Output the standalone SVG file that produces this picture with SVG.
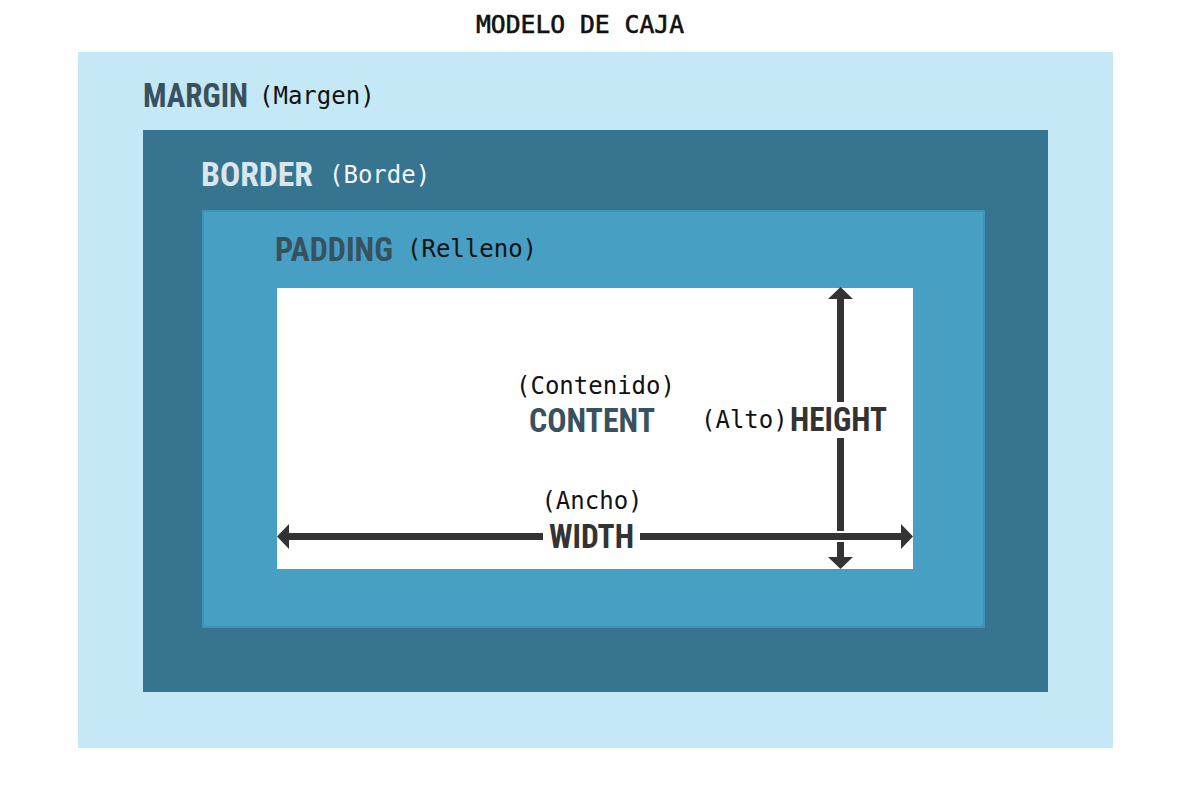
<svg xmlns="http://www.w3.org/2000/svg" width="1200" height="800" viewBox="0 0 1200 800">
  <defs>
    <style>
      .head { font-family: "Liberation Sans Narrow", "Roboto Condensed", "Liberation Sans", sans-serif; font-weight: bold; font-size: 33px; }
      .mono { font-family: "DejaVu Sans Mono", "Liberation Mono", monospace; font-size: 24px; fill: #111; }
      .title { font-family: "DejaVu Sans Mono", "Liberation Mono", monospace; font-size: 24px; fill: #111; stroke: #111; stroke-width: 0.6; }
      .light { fill: #f2f6f8; }
      .dark { fill: #37525e; }
      .pale { fill: #d9e6eb; }
      .ink { fill: #333333; }
      .arrow { stroke: #333333; stroke-width: 7; fill: none; }
      .head-tip { fill: #333333; }
    </style>
  </defs>
  <rect width="1200" height="800" fill="#ffffff"/>
  <text class="title" x="580" y="33" text-anchor="middle" textLength="208" lengthAdjust="spacingAndGlyphs">MODELO DE CAJA</text>

  <g id="margin">
    <rect x="78" y="52" width="1035" height="696" fill="#c5e8f7"/>
    <text class="head dark" x="143" y="107" textLength="105" lengthAdjust="spacingAndGlyphs">MARGIN</text>
    <text class="mono" x="259" y="103.5">(Margen)</text>
  </g>

  <g id="border">
    <rect x="143" y="130" width="905" height="562" fill="#36748f"/>
    <text class="head pale" x="201" y="186" textLength="112" lengthAdjust="spacingAndGlyphs">BORDER</text>
    <text class="mono light" x="329" y="183">(Borde)</text>
  </g>

  <g id="padding">
    <rect x="203" y="211" width="781" height="416" fill="#479fc4" stroke="#3d93b9" stroke-width="2"/>
    <text class="head dark" x="275" y="261" textLength="118" lengthAdjust="spacingAndGlyphs">PADDING</text>
    <text class="mono" x="407" y="257">(Relleno)</text>
  </g>

  <g id="content">
    <rect x="277" y="288" width="636" height="281" fill="#ffffff"/>
    <text class="mono" x="595.5" y="394" text-anchor="middle">(Contenido)</text>
    <text class="head dark" x="529" y="432" textLength="126" lengthAdjust="spacingAndGlyphs">CONTENT</text>
  </g>

  <g id="connectors">
    <line class="arrow" x1="287" y1="536.5" x2="543" y2="536.5"/>
    <line class="arrow" x1="640" y1="536.5" x2="903" y2="536.5"/>
    <polygon class="head-tip" points="277,536.5 289,524 289,549"/>
    <polygon class="head-tip" points="913,536.5 901,524 901,549"/>
    <line class="arrow" x1="840.5" y1="297" x2="840.5" y2="402"/>
    <line class="arrow" x1="840.5" y1="438" x2="840.5" y2="531"/>
    <line class="arrow" x1="840.5" y1="542" x2="840.5" y2="559"/>
    <polygon class="head-tip" points="840.5,287 828,299 853,299"/>
    <polygon class="head-tip" points="840.5,569 828,557 853,557"/>
  </g>

  <g id="height-label">
    <text class="mono" x="701" y="428">(Alto)</text>
    <text class="head ink" x="790" y="431" textLength="97" lengthAdjust="spacingAndGlyphs">HEIGHT</text>
  </g>

  <g id="width-label">
    <text class="mono" x="592" y="509" text-anchor="middle">(Ancho)</text>
    <text class="head ink" x="549" y="548" textLength="85" lengthAdjust="spacingAndGlyphs">WIDTH</text>
  </g>
</svg>
